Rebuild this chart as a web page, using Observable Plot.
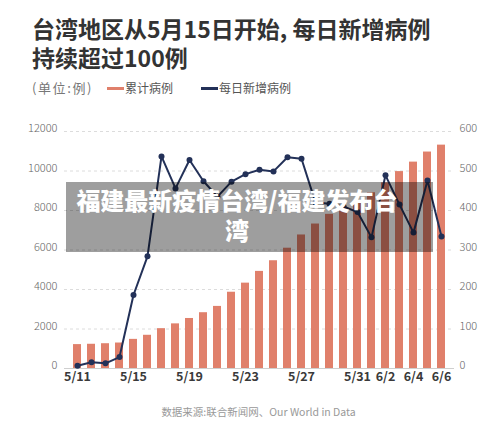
<!DOCTYPE html>
<html>
<head>
<meta charset="utf-8">
<script src="https://cdn.jsdelivr.net/npm/d3@7"></script>
<script src="https://cdn.jsdelivr.net/npm/@observablehq/plot@0.6"></script>
<style>
  html, body { margin: 0; padding: 0; background: #fff; }
  body { width: 500px; height: 435px; position: relative; overflow: hidden;
         font-family: "Noto Sans CJK SC", "Noto Sans", sans-serif; }
  .title { position: absolute; left: 32px; font-size: 23px; font-weight: 700;
           line-height: 26px; color: #333; white-space: nowrap; }
  .legend { position: absolute; left: 32px; top: 78px; font-size: 12px; color: #555;
            line-height: 20px; display: flex; align-items: center; }
  .legend .unit { color: #777; font-size: 13px; margin-right: 14px; letter-spacing: 1.6px; }
  .legend .sw { display: inline-block; width: 17px; height: 3px; margin-right: 1px; }
  .legend .item { display: flex; align-items: center; margin-right: 28px; }
  #chart { position: absolute; left: 0; top: 110px; }
  .banner { position: absolute; left: 66px; top: 182px; width: 367px; height: 70px;
            background: rgba(0, 0, 0, 0.38); }
  .banner-text { position: absolute; left: 66px; width: 342px; text-align: center;
                 color: #fff; font-size: 24px; font-weight: 900; line-height: 26px; white-space: nowrap; }
  .caption { position: absolute; left: 0; width: 517px; top: 404px; text-align: center;
             font-size: 10.5px; color: #999; }
</style>
</head>
<body>
<div class="title" style="top:15px">台湾地区从5月15日开始, 每日新增病例</div>
<div class="title" style="top:44px">持续超过100例</div>
<div class="legend">
  <span class="unit">(单位:例)</span>
  <span class="item"><span class="sw" id="sw-total"></span><span id="lab-total"></span></span>
  <span class="item"><span class="sw" id="sw-daily"></span><span id="lab-daily"></span></span>
</div>
<div id="chart"></div>
<div class="banner"></div>
<div class="banner-text" style="top:187px">福建最新疫情台湾/福建发布台</div>
<div class="banner-text" style="top:217px">湾</div>
<div class="caption">数据来源:联合新闻网、Our World in Data</div>
<script>
// Dates shown on the x axis (2021, Taiwan)
const dates = [
  "5/11","5/12","5/13","5/14","5/15","5/16","5/17","5/18","5/19","5/20",
  "5/21","5/22","5/23","5/24","5/25","5/26","5/27","5/28","5/29","5/30",
  "5/31","6/1","6/2","6/3","6/4","6/5","6/6"
];
// Cumulative confirmed cases (left axis)
const totalCases = [
  1210, 1227, 1255, 1290, 1475, 1682, 2017, 2260, 2533, 2825,
  3144, 3862, 4322, 4917, 5456, 6091, 6761, 7315, 7806, 8150,
  8500, 8900, 9400, 9970, 10450, 10960, 11310
];
// New cases per day (right axis)
const dailyCases = [
  7, 16, 13, 29, 186, 284, 537, 456, 528, 474,
  435, 473, 492, 503, 499, 535, 531, 420, 417, 410,
  396, 332, 489, 415, 344, 476, 334
];
const leftTicks = [0, 2000, 4000, 6000, 8000, 10000, 12000];
const rightTicks = [0, 100, 200, 300, 400, 500, 600];
const xTickLabels = ["5/11","5/15","5/19","5/23","5/27","5/31","6/2","6/4","6/6"];
const seriesNames = ["累计病例", "每日新增病例"];

const barColor = "#E0806B";
const lineColor = "#233158";
// The right axis shares the left scale: 600 daily cases ↔ 12000 cumulative
const ratio = 12000 / 600;

const rows = dates.map((date, i) => ({date, total: totalCases[i], daily: dailyCases[i]}));

document.getElementById("sw-total").style.background = barColor;
document.getElementById("sw-daily").style.background = lineColor;
document.getElementById("lab-total").textContent = seriesNames[0];
document.getElementById("lab-daily").textContent = seriesNames[1];

const chart = Plot.plot({
  width: 500,
  height: 285,
  marginLeft: 64,
  marginRight: 46,
  marginTop: 21,
  marginBottom: 27,
  style: {fontFamily: "'Noto Sans CJK SC', sans-serif", fontSize: "11px", color: "#666", background: "transparent", overflow: "visible"},
  x: {type: "band", domain: dates, padding: 0.42, label: null},
  y: {domain: [0, 12000], label: null},
  marks: [
    Plot.ruleY(leftTicks.filter(v => v > 0), {stroke: "#dcdcdc", strokeDasharray: "3,3"}),
    Plot.axisY(leftTicks, {anchor: "left", tickSize: 0, tickPadding: 7, dy: -3, label: null,
      tickFormat: d => String(d), fill: "#666", fontWeight: 300}),
    Plot.axisY(rightTicks.map(v => v * ratio), {anchor: "right", tickSize: 0, tickPadding: 5, dy: -3, label: null,
      tickFormat: d => String(d / ratio), fill: "#666", fontWeight: 300}),
    Plot.barY(rows, {x: "date", y: "total", fill: barColor}),
    Plot.ruleY([0], {stroke: "#cfcfcf"}),
    Plot.line(rows, {x: "date", y: d => d.daily * ratio, stroke: lineColor, strokeWidth: 2}),
    Plot.dot(rows, {x: "date", y: d => d.daily * ratio, r: 3, fill: lineColor}),
    Plot.axisX(xTickLabels, {anchor: "bottom", tickSize: 0, tickPadding: 4, label: null,
      fill: "#3a3a3a", fontWeight: 700, fontSize: 12.5})
  ]
});
document.getElementById("chart").appendChild(chart);
</script>
</body>
</html>
